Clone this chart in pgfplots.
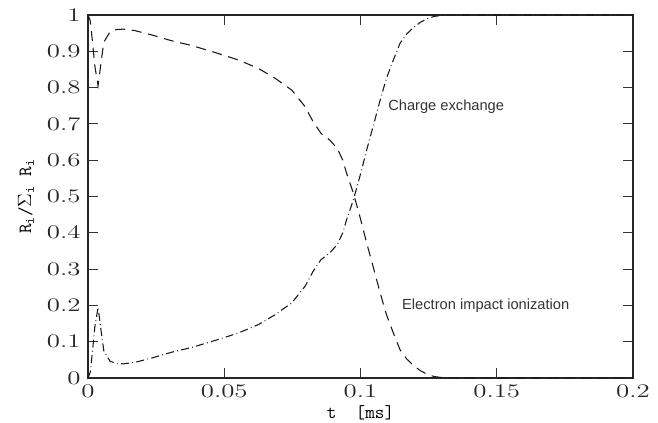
\documentclass[border=0pt]{standalone}
\usepackage{pgfplots}
\pgfplotsset{compat=1.18}
\usepackage{fontspec}
\newfontfamily\labfont{Liberation Sans}
\newcommand\ticfont{\fontsize{13.5}{15}\selectfont}
\definecolor{txtgray}{HTML}{333333}

\pgfplotstableread{
t v
0.0000 1.000
0.0008 0.985
0.0016 0.930
0.0025 0.860
0.0037 0.805
0.0048 0.870
0.0058 0.925
0.0081 0.954
0.0105 0.960
0.0130 0.961
0.0172 0.957
0.0234 0.945
0.0307 0.929
0.0380 0.916
0.0478 0.894
0.0552 0.876
0.0625 0.853
0.0686 0.826
0.0748 0.793
0.0796 0.748
0.0827 0.705
0.0855 0.674
0.0888 0.655
0.0915 0.632
0.0935 0.600
0.0949 0.564
0.0974 0.509
0.0998 0.444
0.1023 0.371
0.1047 0.305
0.1072 0.235
0.1095 0.175
0.1120 0.125
0.1145 0.078
0.1170 0.052
0.1194 0.035
0.1220 0.020
0.1243 0.011
0.1270 0.004
0.1300 0.001
0.1350 0.000
0.2000 0.000
}\ionization

\pgfplotstableread{
t v
0.0000 0.000
0.0008 0.015
0.0016 0.070
0.0025 0.140
0.0037 0.195
0.0048 0.130
0.0058 0.075
0.0081 0.046
0.0105 0.040
0.0130 0.039
0.0172 0.043
0.0234 0.055
0.0307 0.071
0.0380 0.084
0.0478 0.106
0.0552 0.124
0.0625 0.147
0.0686 0.174
0.0748 0.207
0.0796 0.252
0.0827 0.295
0.0855 0.326
0.0888 0.345
0.0915 0.368
0.0935 0.400
0.0949 0.436
0.0974 0.491
0.0998 0.556
0.1023 0.629
0.1047 0.695
0.1072 0.765
0.1095 0.825
0.1120 0.875
0.1145 0.922
0.1170 0.948
0.1194 0.965
0.1220 0.980
0.1243 0.989
0.1270 0.996
0.1300 0.999
0.1350 1.000
0.2000 1.000
}\chargeex

\begin{document}
\begin{tikzpicture}
\begin{axis}[
  scale only axis,
  width=408.75pt, height=272.25pt,
  xmin=0, xmax=0.2, ymin=0, ymax=1,
  xtick={0,0.05,0.1,0.15,0.2},
  ytick={0,0.1,0.2,0.3,0.4,0.5,0.6,0.7,0.8,0.9,1},
  tick align=inside,
  major tick length=7.5pt,
  tick style={line width=0.8pt, color=black!80},
  axis line style={line width=1.1pt, color=black!85},
  scaled x ticks=false,
  x tick label style={/pgf/number format/fixed, /pgf/number format/precision=2},
  y tick label style={/pgf/number format/fixed, /pgf/number format/precision=1},
  xticklabel={\scalebox{1.4}[1]{$\pgfmathprintnumber{\tick}$}},
  yticklabel={\scalebox{1.4}[1]{$\pgfmathprintnumber{\tick}$}},
  every tick label/.append style={font=\ticfont, text=black!85},
  xticklabel style={yshift=-1.5pt},
  yticklabel style={xshift=-2pt},
  xlabel={\fontsize{14}{16}\selectfont\ttfamily t\ \ [ms]},
  ylabel={\fontsize{14}{16}\selectfont\texttt{R}$_{\mathtt{i}}$\texttt{/}$\Sigma_{\mathtt{i}}$\texttt{\ R}$_{\mathtt{i}}$},
  xlabel style={at={(axis description cs:0.5,-0.0964)}, anchor=center},
  ylabel style={at={(axis description cs:-0.1138,0.5)}, anchor=center, rotate=0},
  clip=false,
]
\addplot[black!90, line width=0.8pt, dash pattern=on 7.5pt off 5pt] table[x=t,y=v] {\ionization};
\addplot[black!90, line width=0.8pt, dash pattern=on 6pt off 2.5pt on 0.6pt off 2.5pt] table[x=t,y=v] {\chargeex};
\node[anchor=west, inner sep=0, text=txtgray, font=\labfont\fontsize{11}{13}\selectfont] at (axis cs:0.1101,0.7466) {Charge exchange};
\node[anchor=west, inner sep=0, text=txtgray, font=\labfont\fontsize{11}{13}\selectfont] at (axis cs:0.1152,0.198) {Electron impact ionization};
\end{axis}
\pgfresetboundingbox
\path[use as bounding box] ([xshift=-66pt,yshift=-33.75pt]current axis.south west) rectangle ([xshift=18.75pt,yshift=11.25pt]current axis.north east);
\end{tikzpicture}
\end{document}
